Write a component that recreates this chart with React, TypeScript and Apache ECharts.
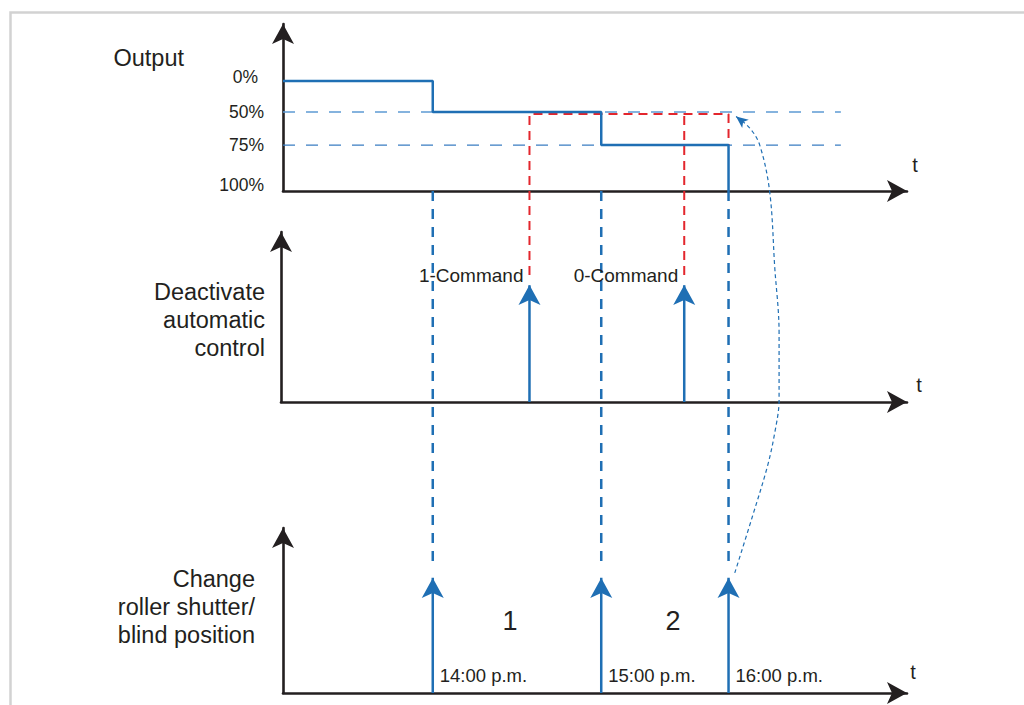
import React, { useEffect, useRef } from 'react';
import * as echarts from 'echarts';

// ---- schematic time axis (t runs 0..100 along every panel) ----
const TIME_LABELS = ['14:00 p.m.', '15:00 p.m.', '16:00 p.m.'];
const TIME_POS = [24.0, 51.0, 71.4];
const COMMAND_LABELS = ['1-Command', '0-Command'];
const COMMAND_POS = [39.5, 64.3];
const PHASE_LABELS = ['1', '2'];
const PHASE_POS = [36.4, 62.5];

// ---- panel titles ----
const PANEL_TITLES = ['Output', 'Deactivate\nautomatic\ncontrol', 'Change\nroller shutter/\nblind position'];

// ---- Output panel (schematic height scale 0..100) ----
const OUTPUT_LEVEL_LABELS = ['0%', '50%', '75%', '100%'];
const OUTPUT_LEVEL_HEIGHT = [65.9, 47.3, 27.5, 0];
const DASHED_LEVEL_HEIGHT = [47.3, 27.5]; // 50 %, 75 %
const DASHED_LEVEL_END = 89.4;
const OUTPUT_STEP_T = [0, 24.0, 51.0, 71.4];
const OUTPUT_STEP_LEVEL = [65.9, 47.3, 27.5, 0];
const COMMAND_LEVEL = 46.1; // position requested while automatic control is deactivated
const COMMAND_TIP_ON_OUTPUT_SCALE = -50.3;
const CHANGE_TIP_ON_OUTPUT_SCALE = -225.7;

// ---- lower panels ----
const COMMAND_ARROW_HEIGHT = 74.7;
const CHANGE_ARROW_HEIGHT = 75.8;
const TIME_LABEL_HEIGHT = 10.9;
const PHASE_LABEL_HEIGHT = 43.6;

// dotted return path from the 16:00 change back to 50 % (output scale)
const RETURN_T = [72.4, 75.2, 77.6, 78.8, 79.5, 79.5, 78.8, 78.0, 76.4, 74.8, 72.6];
const RETURN_H = [-228.7, -195.2, -165.3, -144.9, -125.1, -85.0, -45.5, -0.6, 27.5, 37.7, 44.6];

const BLUE = '#1f6fb4';
const BLUE_LIGHT = '#5d9bd3';
const RED = '#e3262d';
const INK = '#231f20';
const FONT = '"Liberation Sans", Arial, Helvetica, sans-serif';

export default function App() {
  const ref = useRef<HTMLDivElement>(null);

  useEffect(() => {
    if (!ref.current) return;
    const chart = echarts.init(ref.current, undefined, { renderer: 'svg' });

    const axisLine = {
      show: true,
      onZero: false,
      symbol: ['none', 'arrow'],
      symbolSize: [16.5, 20],
      lineStyle: { color: INK, width: 2.6 },
    };
    const hidden = {
      axisTick: { show: false },
      axisLabel: { show: false },
      splitLine: { show: false },
    };
    const xAxisFor = (gridIndex: number, min: number, nameGap: number, padBottom: number) => ({
      type: 'value',
      gridIndex,
      min,
      max: 100,
      axisLine,
      ...hidden,
      name: 't',
      nameLocation: 'end',
      nameGap,
      nameTextStyle: {
        fontFamily: FONT, fontSize: 20, color: INK,
        align: 'center', verticalAlign: 'bottom', padding: [0, 0, padBottom, 0],
      },
    });
    const yAxisFor = (gridIndex: number) => ({
      type: 'value',
      gridIndex,
      min: 0,
      max: 100,
      axisLine,
      ...hidden,
    });

    const seg = (a: number[], b: number[]) => [a, b];
    const textLabel = (fontSize: number) => ({ fontFamily: FONT, fontSize, color: INK, opacity: 1 });
    const solidItem = { opacity: 1 };

    const series: any[] = [];

    // dashed reference levels 50 % / 75 %
    DASHED_LEVEL_HEIGHT.forEach((h, i) => {
      series.push({
        type: 'line', xAxisIndex: 0, yAxisIndex: 0, symbol: 'none', z: 2,
        data: seg([0, h], [DASHED_LEVEL_END, h]),
        lineStyle: { color: i === 0 ? BLUE_LIGHT : '#3a7dc2', width: 1.3, type: [12, 11] },
      });
    });

    // output step line
    series.push({
      type: 'line', xAxisIndex: 0, yAxisIndex: 0, symbol: 'none', step: 'end', z: 5,
      data: OUTPUT_STEP_T.map((t, i) => [t, OUTPUT_STEP_LEVEL[i]]),
      lineStyle: { color: BLUE, width: 2.5 },
    });

    // level labels
    const levelNudge = (i: number) => (i === 0 ? [-6, -4] : i === 3 ? [0, -6] : [0, 0]);
    series.push({
      type: 'scatter', xAxisIndex: 0, yAxisIndex: 0, symbolSize: 0, itemStyle: solidItem,
      data: OUTPUT_LEVEL_HEIGHT.map((h, i) => ({ value: [0, h], label: { offset: levelNudge(i) } })),
      label: {
        show: true, position: 'left', distance: 19, ...textLabel(17.5),
        formatter: (p: any) => OUTPUT_LEVEL_LABELS[p.dataIndex],
      },
    });

    // red dashed: requested position after commands
    series.push({
      type: 'line', xAxisIndex: 0, yAxisIndex: 0, symbol: 'none', clip: false, z: 4,
      data: [
        [COMMAND_POS[0], COMMAND_TIP_ON_OUTPUT_SCALE],
        [COMMAND_POS[0], COMMAND_LEVEL],
        [TIME_POS[2], COMMAND_LEVEL],
        [TIME_POS[2], OUTPUT_STEP_LEVEL[2]],
      ],
      lineStyle: { color: RED, width: 2, type: [9, 6] },
    });
    series.push({
      type: 'line', xAxisIndex: 0, yAxisIndex: 0, symbol: 'none', clip: false, z: 4,
      data: seg([COMMAND_POS[1], COMMAND_TIP_ON_OUTPUT_SCALE], [COMMAND_POS[1], COMMAND_LEVEL]),
      lineStyle: { color: RED, width: 2, type: [9, 6] },
    });

    // blue dashed verticals linking the changes to the output
    TIME_POS.forEach((t) => {
      series.push({
        type: 'line', xAxisIndex: 0, yAxisIndex: 0, symbol: 'none', clip: false, z: 3,
        data: seg([t, 0], [t, CHANGE_TIP_ON_OUTPUT_SCALE]),
        lineStyle: { color: BLUE, width: 2.5, type: [10, 8] },
      });
    });

    // dotted return curve
    series.push({
      type: 'line', xAxisIndex: 0, yAxisIndex: 0, clip: false, z: 3,
      smooth: 0.35, symbol: 'none', showSymbol: true,
      data: RETURN_T.map((t, i) =>
        i === RETURN_T.length - 1
          ? { value: [t, RETURN_H[i]], symbol: 'arrow', symbolSize: [8, 12], symbolRotate: 52,
              itemStyle: { color: BLUE, opacity: 1 } }
          : { value: [t, RETURN_H[i]], symbol: 'none' }
      ),
      itemStyle: { color: BLUE, opacity: 1 },
      lineStyle: { color: BLUE, width: 1.2, type: [4, 3] },
    });

    // command arrows (panel 2)
    COMMAND_POS.forEach((c) => {
      series.push({
        type: 'line', xAxisIndex: 1, yAxisIndex: 1, symbol: 'none', z: 5,
        data: seg([c, 0], [c, COMMAND_ARROW_HEIGHT - 6]),
        lineStyle: { color: BLUE, width: 2.5 },
      });
    });
    series.push({
      type: 'scatter', xAxisIndex: 1, yAxisIndex: 1, z: 6,
      symbol: 'arrow', symbolSize: [16.5, 20], symbolOffset: [0, 10],
      itemStyle: { color: BLUE, opacity: 1 },
      data: COMMAND_POS.map((c) => [c, COMMAND_ARROW_HEIGHT]),
    });
    series.push({
      type: 'scatter', xAxisIndex: 1, yAxisIndex: 1, symbolSize: 0, z: 7, itemStyle: solidItem,
      data: COMMAND_POS.map((c) => [c, COMMAND_ARROW_HEIGHT]),
      label: {
        show: true, position: 'left', distance: 6, ...textLabel(19),
        formatter: (p: any) => COMMAND_LABELS[p.dataIndex],
      },
    });

    // change arrows (panel 3)
    TIME_POS.forEach((t) => {
      series.push({
        type: 'line', xAxisIndex: 2, yAxisIndex: 2, symbol: 'none', z: 5,
        data: seg([t, 0], [t, CHANGE_ARROW_HEIGHT - 6]),
        lineStyle: { color: BLUE, width: 2.5 },
      });
    });
    series.push({
      type: 'scatter', xAxisIndex: 2, yAxisIndex: 2, z: 6,
      symbol: 'arrow', symbolSize: [16.5, 20], symbolOffset: [0, 10],
      itemStyle: { color: BLUE, opacity: 1 },
      data: TIME_POS.map((t) => [t, CHANGE_ARROW_HEIGHT]),
    });
    series.push({
      type: 'scatter', xAxisIndex: 2, yAxisIndex: 2, symbolSize: 0, z: 7, itemStyle: solidItem,
      data: TIME_POS.map((t) => [t, TIME_LABEL_HEIGHT]),
      label: {
        show: true, position: 'right', distance: 7, ...textLabel(18.5),
        formatter: (p: any) => TIME_LABELS[p.dataIndex],
      },
    });
    series.push({
      type: 'scatter', xAxisIndex: 2, yAxisIndex: 2, symbolSize: 0, z: 7, itemStyle: solidItem,
      data: PHASE_POS.map((t) => [t, PHASE_LABEL_HEIGHT]),
      label: {
        show: true, position: 'inside', ...textLabel(27),
        formatter: (p: any) => PHASE_LABELS[p.dataIndex],
      },
    });

    const title = (text: string, x: number, y: number) => ({
      type: 'text', silent: true, x, y,
      style: {
        text, fill: INK, fontFamily: FONT, fontSize: 23.5, lineHeight: 28,
        align: 'right', verticalAlign: 'middle', textAlign: 'right', textVerticalAlign: 'middle',
      },
    });

    chart.setOption({
      animation: false,
      backgroundColor: '#ffffff',
      grid: [
        { left: 283, right: 117, top: 24, height: 167 },
        { left: 281, right: 117, top: 232, height: 170 },
        { left: 283, right: 117, top: 528, height: 165 },
      ],
      xAxis: [
        xAxisFor(0, 0, 8, 16),
        xAxisFor(1, -0.32, 12, 7),
        xAxisFor(2, 0, 6, 11),
      ],
      yAxis: [yAxisFor(0), yAxisFor(1), yAxisFor(2)],
      graphic: [
        {
          type: 'polyline', silent: true, z: -1,
          shape: { points: [[10.5, 705], [10.5, 12.5], [1024, 12.5]] },
          style: { stroke: '#d2d2d2', lineWidth: 2.5, fill: null },
        },
        title(PANEL_TITLES[0], 184, 58),
        title(PANEL_TITLES[1], 265, 320),
        title(PANEL_TITLES[2], 255, 607),
      ],
      series,
    });

    return () => chart.dispose();
  }, []);

  return (
    <div
      ref={ref}
      style={{ position: 'absolute', left: 0, top: 0, width: 1024, height: 705, background: '#fff' }}
    />
  );
}
